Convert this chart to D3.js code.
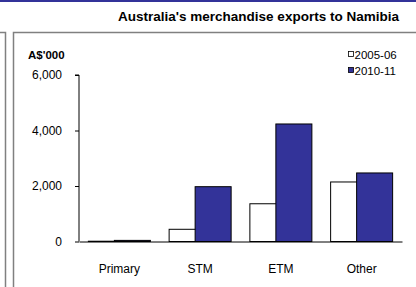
<!DOCTYPE html>
<html>
<head>
<meta charset="utf-8">
<script src="https://cdn.jsdelivr.net/npm/d3@7"></script>
<style>
  body { margin: 0; background: #fff; }
  svg { display: block; font-family: "Liberation Sans", Arial, sans-serif; }
</style>
</head>
<body>
<div id="chart"></div>
<script>
// data (A$'000)
var categories = ["Primary", "STM", "ETM", "Other"];
var series = ["2005-06", "2010-11"];
var exports0506 = [10, 440, 1360, 2145];
var exports1011 = [40, 1975, 4235, 2470];
var yTicks = [0, 2000, 4000, 6000];

var W = 416, H = 287;

var svg = d3.select("#chart")
  .append("svg")
    .attr("width", W)
    .attr("height", H);

// frame lines
svg.append("rect").attr("x", 0).attr("y", 0).attr("width", W).attr("height", 2).attr("fill", "#333399");
svg.append("path").attr("d", "M0,32.5H5.5V287").attr("fill", "none").attr("stroke", "#808080").attr("stroke-width", 1.5);
svg.append("path").attr("d", "M13.5,287V32.5H416").attr("fill", "none").attr("stroke", "#808080").attr("stroke-width", 1.5);

// title
svg.append("text")
  .attr("x", 258.5)
  .attr("y", 21)
  .attr("text-anchor", "middle")
  .style("font-size", "13.5px")
  .style("font-weight", "bold")
  .text("Australia's merchandise exports to Namibia");

var margin = {left: 79, right: 14, top: 75, bottom: 45.5};

var x = d3.scaleBand()
  .domain(categories)
  .range([margin.left, W - margin.right]);

var y = d3.scaleLinear()
  .domain([0, 6000])
  .range([H - margin.bottom, margin.top]);

// y axis
var yAxis = svg.append("g")
  .attr("transform", "translate(" + margin.left + ",0)")
  .call(d3.axisLeft(y).tickValues(yTicks).tickSize(4).tickPadding(13).tickFormat(d3.format(",")));
yAxis.select(".domain").attr("stroke", "#000").attr("d", "M-4," + y(6000) + "H0V" + y(0));
yAxis.selectAll("text").style("font-size", "12px").attr("fill", "#000");

svg.append("text")
  .attr("x", 28)
  .attr("y", 59)
  .style("font-size", "11.5px")
  .style("font-weight", "bold")
  .text("A$'000");

// bars: 2005-06 drawn first, 2010-11 overlaps it
var bw = 36, offset = 26;
var groupW = offset + bw;

svg.selectAll(".b0")
  .data(categories)
  .enter()
  .append("rect")
    .attr("x", function(d) { return x(d) + (x.bandwidth() - groupW) / 2; })
    .attr("y", function(d, i) { return y(exports0506[i]); })
    .attr("width", bw)
    .attr("height", function(d, i) { return y(0) - y(exports0506[i]); })
    .attr("fill", "#fff")
    .attr("stroke", "#000")
    .attr("stroke-width", 1);

svg.selectAll(".b1")
  .data(categories)
  .enter()
  .append("rect")
    .attr("x", function(d) { return x(d) + (x.bandwidth() - groupW) / 2 + offset; })
    .attr("y", function(d, i) { return y(exports1011[i]); })
    .attr("width", bw)
    .attr("height", function(d, i) { return y(0) - y(exports1011[i]); })
    .attr("fill", "#333399")
    .attr("stroke", "#000")
    .attr("stroke-width", 1);

// x axis
var xAxis = svg.append("g")
  .attr("transform", "translate(0," + y(0) + ")")
  .call(d3.axisBottom(x).tickSize(0).tickPadding(23));
xAxis.select(".domain").attr("stroke", "#000");
xAxis.selectAll("text").style("font-size", "12px").attr("fill", "#000");

// legend
var legend = svg.selectAll(".leg")
  .data(series)
  .enter()
  .append("g")
    .attr("transform", function(d, i) { return "translate(348," + (51 + i * 16) + ")"; });
legend.append("rect")
  .attr("x", 0.5).attr("y", 0.5)
  .attr("width", 5).attr("height", 5)
  .attr("fill", function(d, i) { return i === 0 ? "#fff" : "#333399"; })
  .attr("stroke", "#000")
  .attr("stroke-width", 0.8);
legend.append("text")
  .attr("x", 6.5)
  .attr("y", 7.5)
  .style("font-size", "11.5px")
  .text(function(d) { return d; });
</script>
</body>
</html>
